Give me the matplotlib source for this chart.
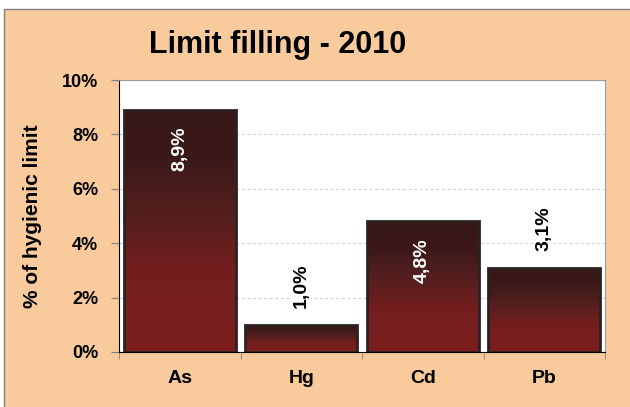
import numpy as np
import matplotlib.pyplot as plt
from matplotlib.patches import Rectangle
from matplotlib.colors import LinearSegmentedColormap
from matplotlib.ticker import FuncFormatter, FixedLocator

# data
elements = ['As', 'Hg', 'Cd', 'Pb']
limit_pct = [8.9, 1.0, 4.8, 3.1]
labels = ['8,9%', '1,0%', '4,8%', '3,1%']
label_inside = [True, False, True, False]

plt.rcParams['font.family'] = ['Liberation Sans', 'DejaVu Sans']
plt.rcParams['font.weight'] = 'bold'

orange = '#f9cb9c'
fig = plt.figure(figsize=(6.3, 4.07), dpi=100, facecolor='white')
# orange panel with thin grey frame
fig.patches.append(Rectangle((4 / 630, -0.01), 1.0, 1 - 9 / 407 + 0.01,
                             transform=fig.transFigure, facecolor=orange,
                             edgecolor='#7f7f7f', linewidth=1.0, zorder=-5))

ax = fig.add_axes([119 / 630, 1 - 352 / 407, 486 / 630, 272 / 407])
ax.set_facecolor('white')
ax.set_zorder(2)

x = np.arange(len(elements))
bars = ax.bar(x, limit_pct, width=0.92, facecolor='none', edgecolor='#2b2222',
              linewidth=2.0, zorder=3)

# vertical gradient, dark on top to red at the bottom
cmap = LinearSegmentedColormap.from_list(
    'barfill', [(0.0, '#381818'), (0.2, '#3c1919'), (0.45, '#561f1f'),
                (0.65, '#721e1e'), (1.0, '#7d1f1f')])
grad = np.linspace(0, 1, 256).reshape(-1, 1)
for b in bars:
    x0, w, h = b.get_x(), b.get_width(), b.get_height()
    im = ax.imshow(grad, cmap=cmap, aspect='auto', extent=(x0, x0 + w, 0, h),
                   origin='upper', zorder=2, interpolation='bilinear')
    im.set_clip_path(b)

ax.set_xlim(-0.5, len(elements) - 0.5)
ax.set_ylim(0, 10)

# value labels, rotated
for xi, v, lab, inside in zip(x, limit_pct, labels, label_inside):
    if inside:
        ax.annotate(lab, (xi, v), xytext=(0, -17), textcoords='offset pixels',
                    rotation=90, ha='center', va='top', color='white',
                    fontsize=14, fontweight='bold', zorder=5)
    else:
        ax.annotate(lab, (xi, v), xytext=(0, 17), textcoords='offset pixels',
                    rotation=90, ha='center', va='bottom', color='black',
                    fontsize=14, fontweight='bold', zorder=5,
                    bbox=dict(facecolor='white', edgecolor='none', pad=1))

ax.yaxis.set_major_locator(FixedLocator([0, 2, 4, 6, 8, 10]))
ax.yaxis.set_major_formatter(FuncFormatter(lambda v, p: '%d%%' % v))
ax.grid(axis='y', color='#d4d4d4', linestyle=(0, (3, 2)), linewidth=0.8, zorder=1)
ax.set_axisbelow(True)

ax.set_xticks(x)
ax.set_xticklabels(elements)
ax.set_xticks(np.arange(-0.5, len(elements), 1.0), minor=True)
ax.tick_params(axis='x', which='major', length=0, pad=13, labelsize=14)
ax.tick_params(axis='x', which='minor', length=5, color='#808080', direction='out')
ax.tick_params(axis='y', length=6, color='#808080', direction='out', pad=9,
               labelsize=13)

for s in ['top', 'right']:
    ax.spines[s].set_color('#9a9a9a')
    ax.spines[s].set_linewidth(0.8)
ax.spines['left'].set_color('black')
ax.spines['bottom'].set_color('black')

ax.set_ylabel('% of hygienic limit', fontsize=15, fontweight='bold')
# label centre sits about 33 px from the left edge of the picture
ax.yaxis.set_label_coords(-(119 - 42) / 486, 0.5)

fig.text(0.44, 0.89, 'Limit filling - 2010', ha='center', va='center',
         fontsize=22, fontweight='bold')

fig.savefig('out.png', dpi=100, facecolor=fig.get_facecolor())
